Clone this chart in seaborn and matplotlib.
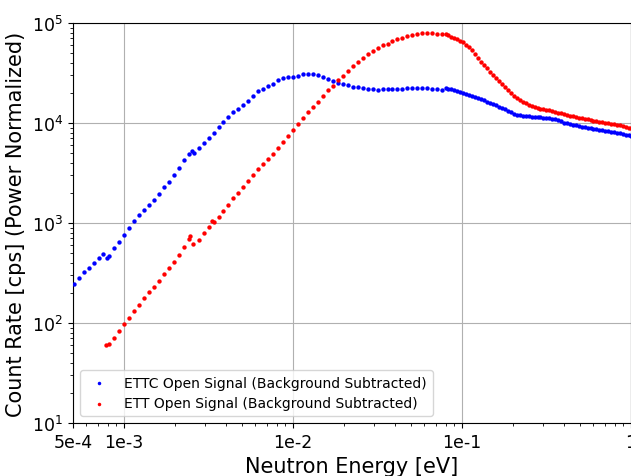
import matplotlib
matplotlib.use("Agg")
import matplotlib.pyplot as plt
import seaborn as sns
import pandas as pd

# ---------------- data ----------------
# ETTC (blue) – low-energy part
blue_energy_lo = [5.1e-4, 5.44e-4, 5.82e-4, 6.23e-4, 6.66e-4, 7.13e-4, 7.55e-4, 7.9e-4, 8.16e-4, 8.73e-4, 9.34e-4]
blue_counts_lo = [245, 279, 320, 355, 394, 442, 490, 447, 473, 556, 646]

blue_energy_mid = [1.00e-3, 1.07e-3, 1.15e-3, 1.23e-3, 1.31e-3, 1.40e-3, 1.50e-3, 1.61e-3, 1.72e-3,
                   1.84e-3, 1.97e-3, 2.11e-3, 2.26e-3, 2.42e-3, 2.52e-3, 2.59e-3, 2.77e-3, 2.96e-3,
                   3.17e-3, 3.39e-3, 3.63e-3, 3.88e-3, 4.15e-3, 4.44e-3, 4.75e-3, 5.08e-3, 5.44e-3,
                   5.82e-3, 6.23e-3, 6.66e-3, 7.13e-3, 7.63e-3, 8.16e-3, 8.73e-3, 9.34e-3]
blue_counts_mid = [759, 891, 1047, 1202, 1340, 1500, 1714, 1968, 2265,
                   2594, 3020, 3589, 4266, 4898, 5190, 4955, 5585, 6310,
                   7079, 8035, 9016, 10230, 11480, 12740, 13960, 15140, 16600,
                   18620, 20890, 22130, 23440, 24830, 26610, 28510, 28840]

# shared energy positions, 1e-2 .. 8e-2 decade
energy_e2 = [1.00e-2, 1.07e-2, 1.15e-2, 1.23e-2, 1.31e-2, 1.40e-2, 1.50e-2, 1.61e-2, 1.72e-2,
             1.84e-2, 1.97e-2, 2.11e-2, 2.26e-2, 2.42e-2, 2.59e-2, 2.77e-2, 2.96e-2, 3.17e-2,
             3.39e-2, 3.63e-2, 3.88e-2, 4.15e-2, 4.44e-2, 4.75e-2, 5.08e-2, 5.44e-2, 5.82e-2,
             6.23e-2, 6.66e-2, 7.13e-2, 7.63e-2]
blue_counts_e2 = [28840, 29510, 30550, 31260, 31260, 30410, 29170, 27540, 26300,
                  25120, 24550, 23990, 23170, 22650, 22280, 21880, 21630, 21530,
                  21630, 21780, 21880, 22030, 22130, 22180, 22230, 22230, 22230,
                  22230, 22130, 21880, 21530]

# shared energy positions, dense high-energy part
energy_hi = [0.080, 0.083, 0.086, 0.090, 0.094, 0.098, 0.102, 0.106, 0.110, 0.115, 0.120, 0.125,
             0.130, 0.135, 0.141, 0.147, 0.153, 0.159, 0.166, 0.173, 0.180, 0.187, 0.195, 0.203,
             0.211, 0.220, 0.229, 0.238, 0.248, 0.258, 0.269, 0.280, 0.291, 0.303, 0.316, 0.329,
             0.342, 0.356, 0.371, 0.386, 0.402, 0.418, 0.435, 0.453, 0.472, 0.491, 0.511, 0.532,
             0.554, 0.577, 0.600, 0.625, 0.650, 0.677, 0.705, 0.734, 0.764, 0.795, 0.828, 0.862,
             0.897, 0.934, 0.972, 1.000]
blue_counts_hi = [22390, 22130, 21780, 21230, 20800, 20420, 19950, 19500, 19140, 18620, 18200, 17660,
                  17180, 16790, 16290, 15850, 15420, 15030, 14490, 14030, 13650, 13240, 12790, 12300,
                  12020, 11890, 11750, 11700, 11640, 11590, 11540, 11480, 11400, 11320, 11220, 11140,
                  11070, 10970, 10670, 10380, 10050, 9886, 9772, 9638, 9484, 9333, 9204, 9078,
                  8954, 8851, 8750, 8630, 8531, 8433, 8356, 8241, 8147, 8054, 7962, 7889,
                  7780, 7656, 7551, 7464]

# ETT (red)
red_energy_lo = [7.8e-4, 8.16e-4, 8.73e-4, 9.34e-4]
red_counts_lo = [60, 62, 71, 83]

red_energy_mid = [1.00e-3, 1.07e-3, 1.15e-3, 1.23e-3, 1.31e-3, 1.40e-3, 1.50e-3, 1.61e-3, 1.72e-3,
                  1.84e-3, 1.97e-3, 2.11e-3, 2.26e-3, 2.42e-3, 2.47e-3, 2.57e-3, 2.77e-3, 2.96e-3,
                  3.17e-3, 3.30e-3, 3.39e-3, 3.63e-3, 3.88e-3, 4.15e-3, 4.44e-3, 4.75e-3, 5.08e-3,
                  5.44e-3, 5.82e-3, 6.23e-3, 6.66e-3, 7.13e-3, 7.63e-3, 8.16e-3, 8.73e-3, 9.34e-3]
red_counts_mid = [97, 112, 132, 153, 176, 202, 229, 266, 307,
                  355, 412, 479, 575, 692, 746, 610, 670, 794,
                  912, 1054, 1023, 1161, 1327, 1531, 1758, 2004, 2291,
                  2624, 2992, 3428, 3846, 4335, 4920, 5623, 6412, 7345]

red_counts_e2 = [8450, 9680, 11220, 12740, 14290, 16220, 18410, 21140, 23710,
                 26610, 29850, 33110, 36730, 40740, 44670, 48420, 52480, 56230,
                 59570, 62370, 65620, 68710, 71450, 73790, 76210, 77620, 78700,
                 79430, 79070, 78160, 77090]

red_counts_hi = [76740, 74990, 73280, 71120, 68870, 66370, 63830, 60670, 57540, 53090, 48420, 44160,
                 40740, 38020, 35080, 32730, 30340, 28380, 26300, 24550, 22910, 21380, 19950, 18620,
                 17660, 16790, 16220, 15740, 15140, 14690, 14360, 14130, 13960, 13740, 13550, 13340,
                 13150, 12970, 12710, 12450, 12220, 12020, 11830, 11640, 11430, 11270, 11120, 10970,
                 10840, 10720, 10590, 10470, 10330, 10210, 10090, 9977, 9863, 9750, 9616, 9441,
                 9268, 9120, 8974, 8851]

x_ticks = [5e-4, 1e-3, 1e-2, 1e-1, 1]
x_tick_labels = ["5e-4", "1e-3", "1e-2", "1e-1", "1"]
label_blue = "ETTC Open Signal (Background Subtracted)"
label_red = "ETT Open Signal (Background Subtracted)"

# ---------------- assemble ----------------
blue = pd.DataFrame({
    "energy": blue_energy_lo + blue_energy_mid + energy_e2 + energy_hi,
    "counts": blue_counts_lo + blue_counts_mid + blue_counts_e2 + blue_counts_hi,
})
red = pd.DataFrame({
    "energy": red_energy_lo + red_energy_mid + energy_e2 + energy_hi,
    "counts": red_counts_lo + red_counts_mid + red_counts_e2 + red_counts_hi,
})

fig = plt.figure(figsize=(6.31, 4.77), dpi=100)
ax = fig.add_axes([73 / 631, 53 / 477, 558 / 631, 400 / 477])

sns.scatterplot(data=blue, x="energy", y="counts", ax=ax, color="blue", s=10,
                linewidth=0, label=label_blue, zorder=3)
sns.scatterplot(data=red, x="energy", y="counts", ax=ax, color="red", s=10,
                linewidth=0, label=label_red, zorder=3)

ax.set_xscale("log")
ax.set_yscale("log")
ax.set_xlim(5e-4, 1)
ax.set_ylim(10, 1e5)
ax.set_xticks(x_ticks)
ax.set_xticklabels(x_tick_labels)
ax.set_axisbelow(True)
ax.grid(True, which="major", color="#b0b0b0", linewidth=0.8)
ax.tick_params(axis="both", which="major", labelsize=12.5)
ax.set_xlabel("Neutron Energy [eV]", fontsize=15)
ax.set_ylabel("Count Rate [cps] (Power Normalized)", fontsize=15)
leg = ax.legend(loc="lower left", fontsize=10, markerscale=0.8)

fig.savefig("out.png", dpi=100)
